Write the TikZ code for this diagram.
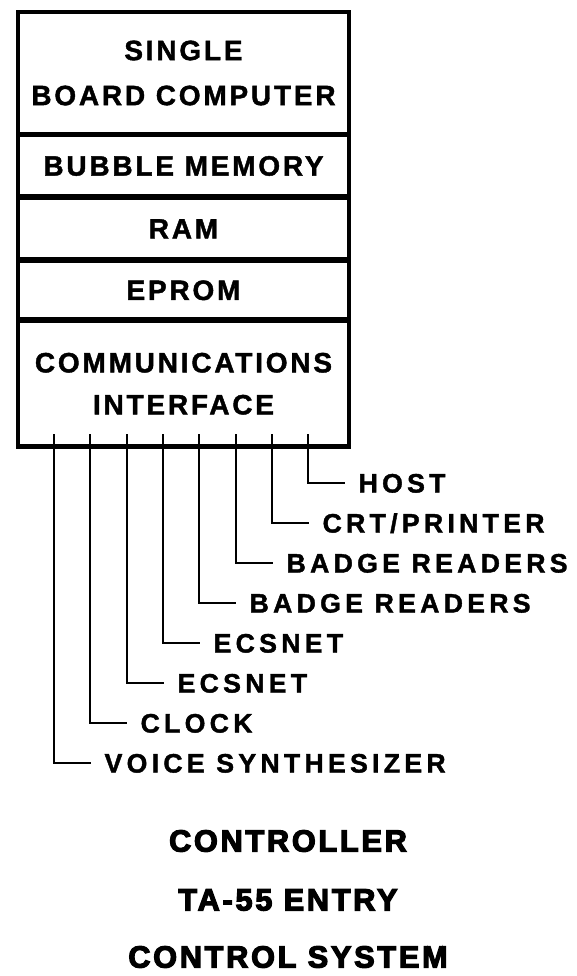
\documentclass[tikz,border=0pt]{standalone}
\usepackage{fontspec}
\setmainfont{Liberation Sans}
\newfontfamily\boxfont{Liberation Sans}[LetterSpace=10,BoldFeatures={FakeBold=1.5}]
\newfontfamily\lblfont{Liberation Sans}[LetterSpace=16,BoldFeatures={FakeBold=1.5}]
\newfontfamily\titlefont{Liberation Sans}[LetterSpace=9,BoldFeatures={FakeBold=4}]
\usetikzlibrary{positioning}
\tikzset{
  sect/.style={draw,line width=2.2pt,minimum width=246.75pt,inner sep=0pt,align=center,
    font=\boxfont\bfseries\fontsize{21}{33.75}\selectfont},
  lbl/.style={anchor=west,inner xsep=10pt,inner ysep=0pt,text height=14.3pt,text depth=0pt,
    font=\lblfont\bfseries\fontsize{20}{22}\selectfont},
  wire/.style={line width=2.2pt},
  ttl/.style={font=\titlefont\bfseries\fontsize{23}{25}\selectfont},
}
\begin{document}
\begin{tikzpicture}[x=0.75pt,y=0.75pt]
  \useasboundingbox (0,0) rectangle (576,-976);
  % controller board
  \node[sect,minimum height=90pt] (sbc) at (183.5,-73) {SINGLE\\BOARD COMPUTER};
  \node[sect,minimum height=45pt,below=0pt of sbc] (bub) {BUBBLE MEMORY};
  \node[sect,minimum height=45pt,below=0pt of bub] (ram) {RAM};
  \node[sect,minimum height=42.75pt,below=0pt of ram] (eprom) {EPROM};
  \node[sect,minimum height=93pt,below=0pt of eprom,
    font=\boxfont\bfseries\fontsize{21}{31.5}\selectfont] (comm) {COMMUNICATIONS\\INTERFACE};
  \draw[line width=3pt] (sbc.north west) rectangle (comm.south east);
  % lines out of the interface
  \foreach \i/\x/\t in {1/54/VOICE SYNTHESIZER,2/90/CLOCK,3/127/ECSNET,4/163/ECSNET,
      5/199/BADGE READERS,6/236/BADGE READERS,7/272/{CRT/PRINTER},8/308/HOST}{
    \coordinate (w\i) at (\x,-434);
    \node[lbl] (l\i) at (\x+37,-763+40*\i-40) {\t};
    \draw[wire] (w\i) |- (l\i.west);
  }
  % caption
  \node[ttl] (t1) at (288,-841) {CONTROLLER};
  \node[ttl] (t2) at (288,-900) {TA-55 ENTRY};
  \node[ttl] (t3) at (288,-957) {CONTROL SYSTEM};
\end{tikzpicture}
\end{document}
